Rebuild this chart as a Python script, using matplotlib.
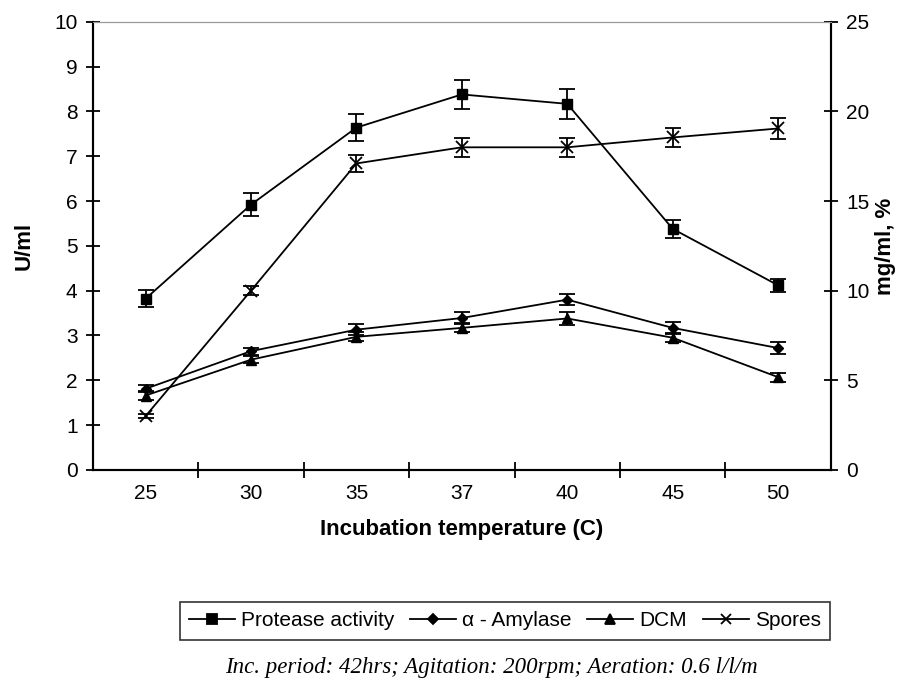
import matplotlib
matplotlib.use("Agg")
import matplotlib.pyplot as plt
from matplotlib.lines import Line2D
import numpy as np

plt.rcParams["font.family"] = ["Liberation Sans", "DejaVu Sans"]

temps = ["25", "30", "35", "37", "40", "45", "50"]
protease = [3.82, 5.92, 7.64, 8.38, 8.17, 5.38, 4.12]
protease_err = [0.19, 0.25, 0.31, 0.33, 0.33, 0.2, 0.14]
amylase = [1.81, 2.65, 3.13, 3.39, 3.80, 3.17, 2.72]
amylase_err = [0.08, 0.08, 0.12, 0.14, 0.12, 0.14, 0.13]
dcm = [1.66, 2.46, 2.97, 3.17, 3.38, 2.95, 2.07]
dcm_err = [0.1, 0.08, 0.1, 0.1, 0.15, 0.1, 0.1]
spores = [3.0, 10.0, 17.1, 18.0, 18.0, 18.55, 19.05]   # right axis
spores_err = [0.12, 0.25, 0.46, 0.53, 0.53, 0.55, 0.58]

x = np.arange(len(temps))

fig = plt.figure(figsize=(9.1, 6.83), dpi=100)
ax = fig.add_axes([0.102, 0.312, 0.811, 0.656])
ax2 = ax.twinx()

ekw = dict(color="black", lw=1.3, capsize=6, capthick=1.3, elinewidth=1.3)
ax.errorbar(x, protease, yerr=protease_err, marker="s", ms=7, **ekw)
ax.errorbar(x, amylase, yerr=amylase_err, marker="D", ms=5, **ekw)
ax.errorbar(x, dcm, yerr=dcm_err, marker="^", ms=7, **ekw)
ax2.errorbar(x, spores, yerr=spores_err, marker="x", ms=9, mew=1.3, **ekw)

ax.set_xlim(-0.5, len(temps) - 0.5)
ax.set_ylim(0, 10)
ax2.set_ylim(0, 25)
ax.set_yticks(range(0, 11))
ax2.set_yticks(range(0, 26, 5))
ax.set_xticks(x)
ax.set_xticklabels(temps)
ax.set_xticks(np.arange(0.5, len(temps) - 0.5, 1), minor=True)
ax.tick_params(axis="x", which="major", length=0, labelsize=15, pad=10)
ax.tick_params(axis="x", which="minor", direction="inout", length=12, width=1.3)
ax.tick_params(axis="y", direction="inout", length=10, width=1.3, labelsize=15, pad=6)
ax2.tick_params(axis="y", direction="inout", length=10, width=1.3, labelsize=15, pad=6)

for a in (ax, ax2):
    for s in ("left", "right", "bottom"):
        a.spines[s].set_linewidth(1.5)
        a.spines[s].set_color("black")
    a.spines["top"].set_color("#999999")
    a.spines["top"].set_linewidth(0.8)

ax.set_ylabel("U/ml", fontsize=16, fontweight="bold", labelpad=14)
ax2.set_ylabel("mg/ml, %", fontsize=16, fontweight="bold", rotation=90, labelpad=4)
ax.set_xlabel("Incubation temperature (C)", fontsize=16, fontweight="bold", labelpad=12)

handles = [Line2D([], [], color="black", lw=1.3, marker=m, ms=s, mew=1.3)
           for m, s in (("s", 7), ("D", 5), ("^", 7), ("x", 7))]
leg = fig.legend(handles, ["Protease activity", "α - Amylase", "DCM", "Spores"],
                 loc="center", bbox_to_anchor=(0.555, 0.091), ncol=4, fontsize=15,
                 frameon=True, fancybox=False, edgecolor="black", handlelength=2.2,
                 handletextpad=0.3, columnspacing=0.75, borderpad=0.45)
leg.get_frame().set_linewidth(1.2)

fig.text(0.54, 0.008, "Inc. period: 42hrs; Agitation: 200rpm; Aeration: 0.6 l/l/m",
         ha="center", va="bottom", fontsize=16.5, style="italic",
         family=["Liberation Serif", "DejaVu Serif"])

plt.savefig("out.png", dpi=100)
